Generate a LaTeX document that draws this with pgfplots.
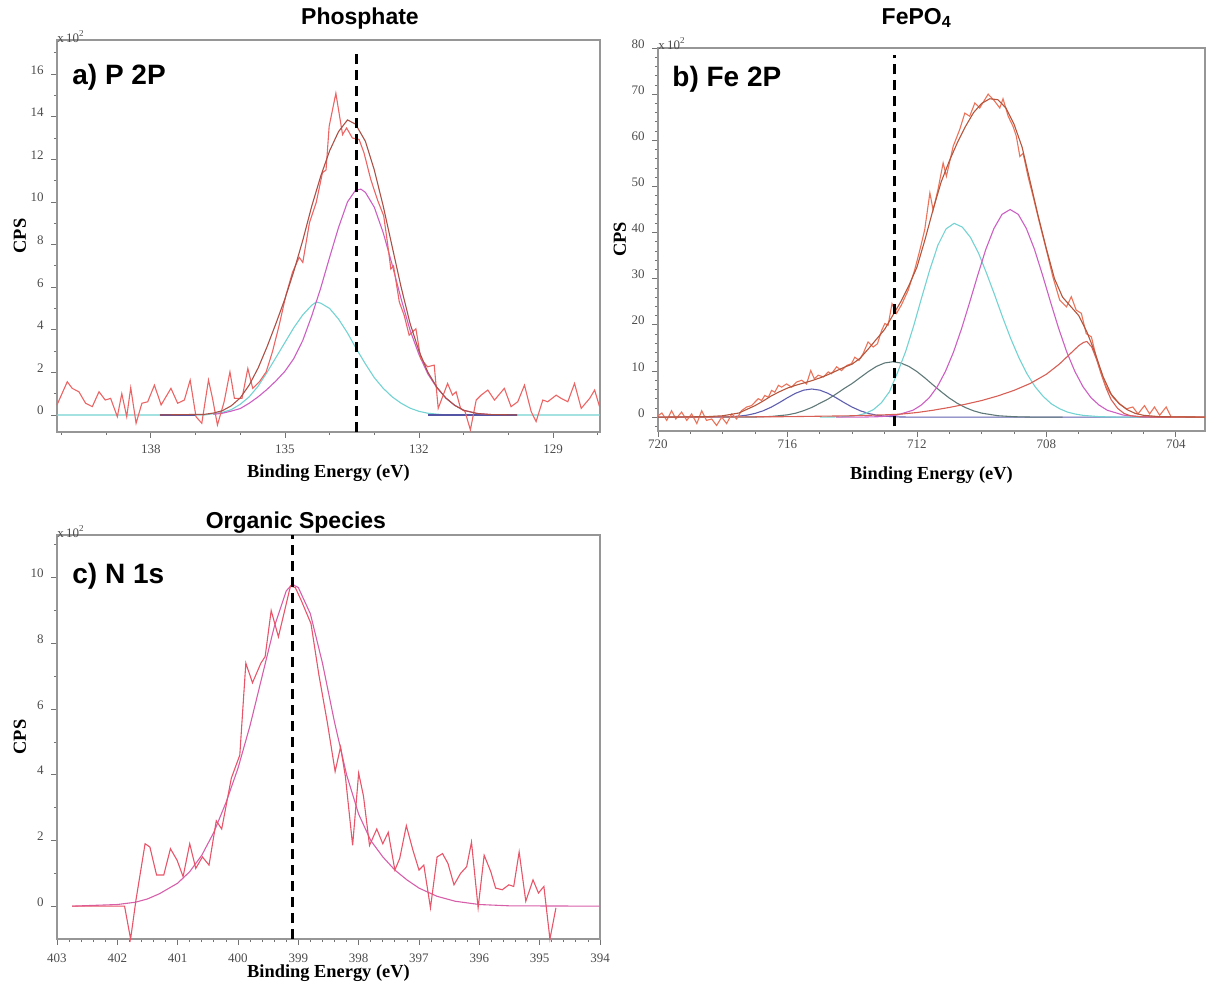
\documentclass[border=0pt]{standalone}
\usepackage{fontspec}
\setmainfont{Liberation Serif}
\setsansfont{Liberation Sans}
\usepackage{pgfplots}
\usepackage{pgfplotstable}
\pgfplotsset{compat=1.18}

\definecolor{rawA}{RGB}{236,100,100}
\definecolor{envA}{RGB}{170,80,70}
\definecolor{magA}{RGB}{205,95,195}
\definecolor{cyanA}{RGB}{115,210,210}
\definecolor{bgA}{RGB}{85,85,165}
\definecolor{rawB}{RGB}{235,115,90}
\definecolor{envB}{RGB}{180,85,60}
\definecolor{blueB}{RGB}{95,95,175}
\definecolor{grayB}{RGB}{95,120,120}
\definecolor{redB}{RGB}{215,95,85}
\definecolor{rawC}{RGB}{232,85,105}
\definecolor{fitC}{RGB}{215,95,170}
\definecolor{frame}{RGB}{150,150,150}

\newcommand\tickfont{\fontsize{6.5}{7}\selectfont}
\newcommand\labfont{\fontsize{9.2}{10}\selectfont\bfseries}
\newcommand\titfont{\fontsize{11.5}{13}\selectfont\sffamily\bfseries}
\newcommand\panfont{\fontsize{14}{16}\selectfont\sffamily\bfseries}

% ---------------- Panel a ----------------
\pgfplotstableread{
x y
140.10 0.47
139.87 1.56
139.76 1.25
139.61 1.09
139.46 0.55
139.31 0.39
139.16 1.09
139.02 0.70
138.90 0.78
138.75 -0.08
138.65 1.00
138.54 -0.08
138.45 1.28
138.33 -0.39
138.20 0.55
138.07 0.62
137.92 1.40
137.77 0.47
137.55 1.25
137.40 0.55
137.25 0.70
137.12 1.64
136.99 -0.08
136.86 -0.39
136.71 1.64
136.62 0.78
136.51 -0.47
136.36 0.62
136.23 2.02
136.13 0.78
135.96 0.78
135.83 2.18
135.72 1.25
135.57 1.56
135.42 2.02
135.28 2.96
135.13 4.20
134.98 5.60
134.83 6.70
134.68 7.40
134.60 7.16
134.45 9.03
134.30 9.97
134.16 11.37
134.08 11.50
134.01 13.55
133.86 15.10
133.71 13.16
133.62 13.47
133.49 13.00
133.34 12.93
133.23 12.30
133.08 11.06
132.93 10.10
132.79 9.35
132.70 8.00
132.63 6.85
132.57 7.00
132.44 5.30
132.33 4.67
132.22 3.74
132.07 4.05
131.96 2.65
131.81 2.26
131.66 2.34
131.57 0.31
131.36 1.48
131.25 0.93
131.17 1.09
131.07 0.31
130.97 0.16
130.85 -0.70
130.72 0.70
130.61 0.93
130.46 1.17
130.31 0.70
130.09 1.25
129.94 0.39
129.79 0.62
129.64 1.40
129.49 0.16
129.38 -0.31
129.23 0.70
129.12 0.62
128.93 0.93
128.82 0.78
128.67 0.62
128.52 1.48
128.37 0.31
128.18 0.78
128.07 1.17
127.96 0.39
}\rawA

\pgfplotstableread{
x y
140.10 0
136.80 0
136.60 0.06
136.40 0.12
136.20 0.25
136.00 0.50
135.80 0.85
135.60 1.35
135.40 2.00
135.20 2.70
135.00 3.40
134.80 4.10
134.60 4.70
134.40 5.15
134.30 5.30
134.20 5.25
134.00 5.00
133.80 4.50
133.60 3.85
133.40 3.10
133.20 2.40
133.00 1.75
132.80 1.25
132.60 0.85
132.40 0.55
132.20 0.32
132.00 0.17
131.80 0.08
131.50 0.02
131.20 0
127.95 0
}\cyanAt

\pgfplotstableread{
x y
136.60 0.03
136.40 0.08
136.20 0.18
136.00 0.30
135.80 0.55
135.60 0.85
135.40 1.20
135.20 1.60
135.00 2.05
134.80 2.65
134.60 3.50
134.40 4.65
134.20 5.95
134.00 7.40
133.80 8.80
133.60 10.00
133.42 10.55
133.30 10.60
133.20 10.45
133.00 9.75
132.80 8.55
132.60 7.05
132.40 5.45
132.20 3.98
132.00 2.83
131.80 1.92
131.60 1.28
131.40 0.79
131.20 0.45
131.00 0.22
130.70 0.07
130.40 0.02
}\magAt

\pgfplotstableread{
x y
137.80 0
136.80 0.03
136.60 0.09
136.40 0.20
136.20 0.43
136.00 0.80
135.80 1.40
135.60 2.20
135.40 3.20
135.20 4.30
135.00 5.45
134.80 6.75
134.60 8.20
134.40 9.80
134.20 11.20
134.00 12.40
133.80 13.30
133.60 13.85
133.42 13.65
133.20 12.85
133.00 11.50
132.80 9.80
132.60 7.90
132.40 6.00
132.20 4.30
132.00 3.00
131.80 2.00
131.60 1.30
131.40 0.80
131.20 0.45
131.00 0.22
130.70 0.07
130.40 0.02
129.80 0
}\envAt

% ---------------- Panel b ----------------
\pgfplotstableread{
x y
720.00 0.3
719.88 0.9
719.73 -0.7
719.58 1.4
719.45 -0.4
719.27 1.1
719.11 -0.7
718.96 0.7
718.80 -1.4
718.65 1.4
718.50 -0.7
718.34 -0.4
718.19 -1.8
718.03 0
717.88 -1.4
717.72 0.7
717.57 -0.4
717.42 1.4
717.26 2.2
717.11 2.5
717.00 3.3
716.90 4.0
716.80 3.6
716.70 4.7
716.59 4.3
716.49 5.8
716.39 5.4
716.28 6.9
716.18 6.5
716.03 7.2
715.87 6.5
715.72 7.6
715.56 8.0
715.41 7.2
715.28 10.1
715.17 8.3
715.05 9.1
714.89 8.7
714.74 9.8
714.64 9.4
714.48 10.9
714.33 10.1
714.17 11.2
714.02 11.6
713.92 13.0
713.79 12.3
713.66 13.8
713.51 16.3
713.35 15.2
713.22 15.9
713.09 18.8
712.99 20.3
712.89 19.9
712.77 24.6
712.63 22.5
712.48 24.3
712.27 27.5
712.07 31.9
711.91 36.2
711.76 40.6
711.60 48.6
711.50 44.9
711.35 49.3
711.19 55.1
711.09 52.2
710.88 58.7
710.68 62.3
710.52 65.9
710.37 65.2
710.21 68.1
710.06 67.0
709.80 70.0
709.60 68.5
709.44 67.0
709.34 69.0
709.18 65.2
709.03 63.0
708.93 60.9
708.82 56.5
708.72 57.2
708.57 52.2
708.41 47.8
708.21 42.0
708.00 36.2
707.80 30.4
707.59 25.4
707.38 23.9
707.23 26.1
707.08 23.2
706.92 22.5
706.77 18.1
706.61 17.4
706.46 13.0
706.30 9.4
706.15 6.5
705.94 4.3
705.74 2.9
705.53 1.8
705.33 2.2
705.17 0.7
704.97 2.5
704.81 0.7
704.66 2.2
704.50 0.4
704.30 2.2
704.14 0
703.89 0.1
703.10 0
}\rawB

\pgfplotstableread{
x y
720.00 0
718.50 0
718.00 0.03
717.75 0.10
717.50 0.22
717.25 0.43
717.00 0.81
716.75 1.38
716.50 2.17
716.25 3.15
716.00 4.21
715.75 5.17
715.50 5.85
715.25 6.10
715.00 5.85
714.75 5.17
714.50 4.21
714.25 3.15
714.00 2.17
713.75 1.38
713.50 0.81
713.25 0.43
713.00 0.22
712.75 0.10
712.50 0.03
712.00 0
703.10 0
}\blueBt

\pgfplotstableread{
x y
718.00 0
717.00 0.03
716.50 0.15
716.00 0.50
715.75 0.85
715.50 1.40
715.25 2.10
715.00 3.00
714.75 3.90
714.50 5.00
714.25 6.20
714.00 7.30
713.75 8.60
713.50 9.88
713.25 11.00
713.00 11.74
712.75 12.00
712.50 11.74
712.25 11.00
712.00 9.88
711.75 8.48
711.50 6.97
711.25 5.50
711.00 4.14
710.75 2.99
710.50 2.07
710.25 1.37
710.00 0.87
709.50 0.31
709.00 0.09
708.50 0.02
707.50 0
}\grayBt

\pgfplotstableread{
x y
715.00 0
714.35 0.06
713.85 0.35
713.60 0.80
713.35 1.60
713.10 3.10
712.85 5.50
712.60 9.64
712.35 14.20
712.10 19.80
711.85 26.00
711.60 32.00
711.35 37.30
711.10 40.80
710.85 42.00
710.60 41.20
710.35 39.00
710.10 35.60
709.85 31.20
709.60 26.50
709.35 21.60
709.10 17.00
708.85 12.90
708.60 9.40
708.35 6.60
708.10 4.50
707.85 2.90
707.60 1.85
707.35 1.10
707.10 0.66
706.85 0.37
706.35 0.10
705.85 0.02
705.00 0
}\cyanBt

\pgfplotstableread{
x y
714.50 0
713.62 0.02
713.12 0.11
712.62 0.44
712.12 1.50
711.87 2.60
711.62 4.20
711.37 6.60
711.12 9.90
710.87 14.10
710.62 19.20
710.37 24.90
710.12 30.80
709.87 36.40
709.62 40.90
709.37 43.95
709.12 45.00
708.87 43.95
708.62 40.90
708.37 36.40
708.12 30.80
707.87 24.90
707.62 19.20
707.37 14.10
707.12 9.90
706.87 6.60
706.62 4.20
706.37 2.60
706.12 1.50
705.62 0.44
705.12 0.11
704.62 0.02
704.00 0
}\magBt

\pgfplotstableread{
x y
720.00 0
716.00 0.10
714.00 0.30
713.00 0.50
712.50 0.65
712.00 1.00
711.50 1.50
711.00 2.10
710.50 2.80
710.00 3.60
709.50 4.60
709.00 5.80
708.50 7.30
708.00 9.30
707.60 11.50
707.30 13.50
707.00 15.50
706.85 16.20
706.75 16.40
706.60 15.20
706.45 12.50
706.30 9.20
706.15 6.20
706.00 3.80
705.80 1.90
705.60 0.80
705.40 0.30
705.10 0.08
704.50 0
703.10 0
}\redBt

\pgfplotstableread{
x y
720.00 0
718.50 0.10
718.00 0.30
717.50 0.90
717.00 2.50
716.75 3.50
716.50 4.60
716.25 5.50
716.00 6.30
715.75 6.90
715.50 7.40
715.25 7.90
715.00 8.50
714.75 9.20
714.50 10.00
714.25 10.80
714.00 11.50
713.75 12.80
713.50 14.80
713.25 16.90
713.00 19.00
712.75 22.00
712.50 25.00
712.25 28.50
712.00 32.50
711.75 38.50
711.50 45.00
711.25 51.00
711.00 55.50
710.75 59.50
710.50 63.00
710.25 66.00
710.00 68.00
709.75 69.00
709.50 68.80
709.25 67.00
709.00 63.50
708.75 58.50
708.50 51.00
708.25 43.50
708.00 36.50
707.75 30.00
707.50 26.00
707.25 24.00
707.00 22.00
706.75 18.50
706.50 14.00
706.25 8.80
706.00 5.00
705.75 2.90
705.50 1.60
705.25 0.80
705.00 0.40
704.50 0.10
703.10 0
}\envBt

% ---------------- Panel c ----------------
\pgfplotstableread{
x y
402.75 0
402.40 0
402.10 0
401.88 0
401.78 -1.0
401.69 0.2
401.54 1.9
401.46 1.8
401.35 0.95
401.23 0.95
401.12 1.75
401.01 1.4
400.91 0.9
400.80 1.9
400.70 1.15
400.59 1.5
400.48 1.25
400.36 2.6
400.27 2.35
400.11 3.9
399.97 4.6
399.87 7.4
399.76 6.8
399.62 7.4
399.55 7.6
399.45 9.0
399.33 8.2
399.13 9.75
399.05 9.7
398.95 9.3
398.79 8.6
398.66 7.05
398.52 5.6
398.39 4.1
398.30 4.85
398.22 3.95
398.10 1.85
398.00 4.05
397.92 3.35
397.82 1.85
397.70 2.35
397.60 1.9
397.51 2.25
397.40 1.1
397.32 1.45
397.21 2.45
397.10 1.7
397.00 1.1
396.92 1.25
396.81 -0.05
396.70 1.5
396.61 1.6
396.52 1.3
396.42 0.65
396.31 1.0
396.21 1.2
396.13 1.95
396.02 -0.05
395.92 1.55
395.81 1.05
395.73 0.55
395.62 0.5
395.51 0.65
395.43 0.6
395.34 1.65
395.23 0.15
395.11 0.8
395.02 0.4
394.93 0.6
394.83 -1.0
394.73 -0.05
}\rawC

\pgfplotstableread{
x y
402.75 0
402.00 0.05
401.70 0.12
401.50 0.22
401.30 0.38
401.00 0.70
400.80 1.05
400.60 1.55
400.40 2.25
400.20 3.15
400.00 4.20
399.80 5.50
399.60 7.00
399.40 8.50
399.20 9.60
399.10 9.80
399.00 9.70
398.80 8.90
398.60 7.40
398.40 5.60
398.20 4.00
398.00 2.80
397.80 2.00
397.60 1.50
397.40 1.10
397.20 0.80
397.00 0.55
396.70 0.30
396.40 0.15
396.00 0.05
395.50 0.01
394.00 0
}\fitC

\pgfplotsset{
  xps/.style={
    scale only axis, x dir=reverse, clip=false,
    anchor=north west,
    axis line style={draw=frame, line width=0.6pt},
    every tick/.style={draw=black!55, line width=0.4pt},
    tick align=outside, xtick pos=bottom, ytick pos=left,
    major tick length=2.8pt, minor tick length=1.6pt,
    tick label style={font=\tickfont, text=black!70},
    /pgf/number format/assume math mode=true,
    yticklabel style={anchor=base east, xshift=-0.3pt},
    every axis plot/.append style={line width=0.55pt},
    scaled ticks=false,
  }
}

\begin{document}
\begin{tikzpicture}
\useasboundingbox (0,0) rectangle (603pt,-493pt);

% ===== a) =====
\begin{axis}[xps, at={(28.5pt,-20pt)}, width=271.5pt, height=196pt,
  xmin=127.95, xmax=140.1, ymin=-0.8, ymax=17.6,
  xtick={129,132,135,138}, minor xtick={128,130,131,133,134,136,137,139,140},
  ytick={0,2,...,16}, minor ytick={1,3,...,17}]
\addplot[cyanA, no markers] table {\cyanAt};
\addplot[bgA, no markers] coordinates {(137.8,0) (137.0,0)};
\addplot[bgA, no markers] coordinates {(131.8,0) (129.8,0)};
\addplot[magA, no markers] table {\magAt};
\addplot[rawA, no markers] table {\rawA};
\addplot[envA, no markers] table {\envAt};
\addplot[black, line width=1.6pt, dash pattern=on 5pt off 3pt, no markers] coordinates {(133.4,-0.8) (133.4,17.0)};
\node[font=\tickfont, text=black!70, anchor=base west, inner sep=0pt] at ([yshift=-1pt]rel axis cs:0,1) {x\,10\textsuperscript{2}};
\node[font=\panfont, anchor=base west, inner sep=0pt] at ([xshift=7.5pt,yshift=-22pt]rel axis cs:0,1) {a) P 2P};
\node[font=\titfont] at ([yshift=10.5pt]rel axis cs:0.558,1) {Phosphate};
\node[font=\labfont] at ([yshift=-20.5pt]rel axis cs:0.5,0) {Binding Energy (eV)};
\node[font=\labfont, rotate=90] at ([xshift=-18.5pt]rel axis cs:0,0.5) {CPS};
\end{axis}

% ===== b) =====
\begin{axis}[xps, at={(329pt,-24pt)}, width=273.5pt, height=191.5pt,
  xmin=703.1, xmax=720, ymin=-3, ymax=80,
  xtick={704,708,712,716,720}, minor xtick={703,705,706,707,709,710,711,713,714,715,717,718,719},
  ytick={0,10,...,80}, minor ytick={-2,2,4,6,8,12,14,16,18,22,24,26,28,32,34,36,38,42,44,46,48,52,54,56,58,62,64,66,68,72,74,76,78},
  xticklabel style={yshift=2pt}]
\addplot[blueB, no markers] table {\blueBt};
\addplot[grayB, no markers] table {\grayBt};
\addplot[cyanA, no markers] table {\cyanBt};
\addplot[magA, no markers] table {\magBt};
\addplot[redB, no markers] table {\redBt};
\addplot[rawB, no markers] table {\rawB};
\addplot[envB, no markers] table {\envBt};
\addplot[black, line width=1.6pt, dash pattern=on 5pt off 3pt, no markers] coordinates {(712.7,-2) (712.7,78.5)};
\node[font=\tickfont, text=black!70, anchor=base west, inner sep=0pt] at ([yshift=-0.5pt]rel axis cs:0,1) {x\,10\textsuperscript{2}};
\node[font=\panfont, anchor=base west, inner sep=0pt] at ([xshift=7pt,yshift=-19pt]rel axis cs:0,1) {b) Fe 2P};
\node[font=\titfont] at ([yshift=15pt]rel axis cs:0.473,1) {FePO\textsubscript{4}};
\node[font=\labfont] at ([yshift=-22pt]rel axis cs:0.5,0) {Binding Energy (eV)};
\node[font=\labfont, rotate=90] at ([xshift=-19pt]rel axis cs:0,0.5) {CPS};
\end{axis}

% ===== c) =====
\begin{axis}[xps, at={(28.5pt,-267.5pt)}, width=271.5pt, height=202pt,
  xmin=394, xmax=403, ymin=-1, ymax=11.3,
  xtick={394,395,...,403}, minor xtick={394,394.2,...,403},
  ytick={0,2,...,10}, minor ytick={1,3,...,11},
  xticklabel style={yshift=-1pt}]
\addplot[fitC, no markers] table {\fitC};
\addplot[rawC, no markers] table {\rawC};
\addplot[black, line width=1.6pt, dash pattern=on 5pt off 3pt, no markers] coordinates {(399.1,-1) (399.1,11.3)};
\node[font=\tickfont, text=black!70, anchor=base west, inner sep=0pt] at ([yshift=-1pt]rel axis cs:0,1) {x\,10\textsuperscript{2}};
\node[font=\panfont, anchor=base west, inner sep=0pt] at ([xshift=7.5pt,yshift=-24pt]rel axis cs:0,1) {c) N 1s};
\node[font=\titfont] at ([yshift=6pt]rel axis cs:0.44,1) {Organic Species};
\node[font=\labfont] at ([yshift=-17pt]rel axis cs:0.5,0) {Binding Energy (eV)};
\node[font=\labfont, rotate=90] at ([xshift=-18.5pt]rel axis cs:0,0.5) {CPS};
\end{axis}
\end{tikzpicture}
\end{document}
